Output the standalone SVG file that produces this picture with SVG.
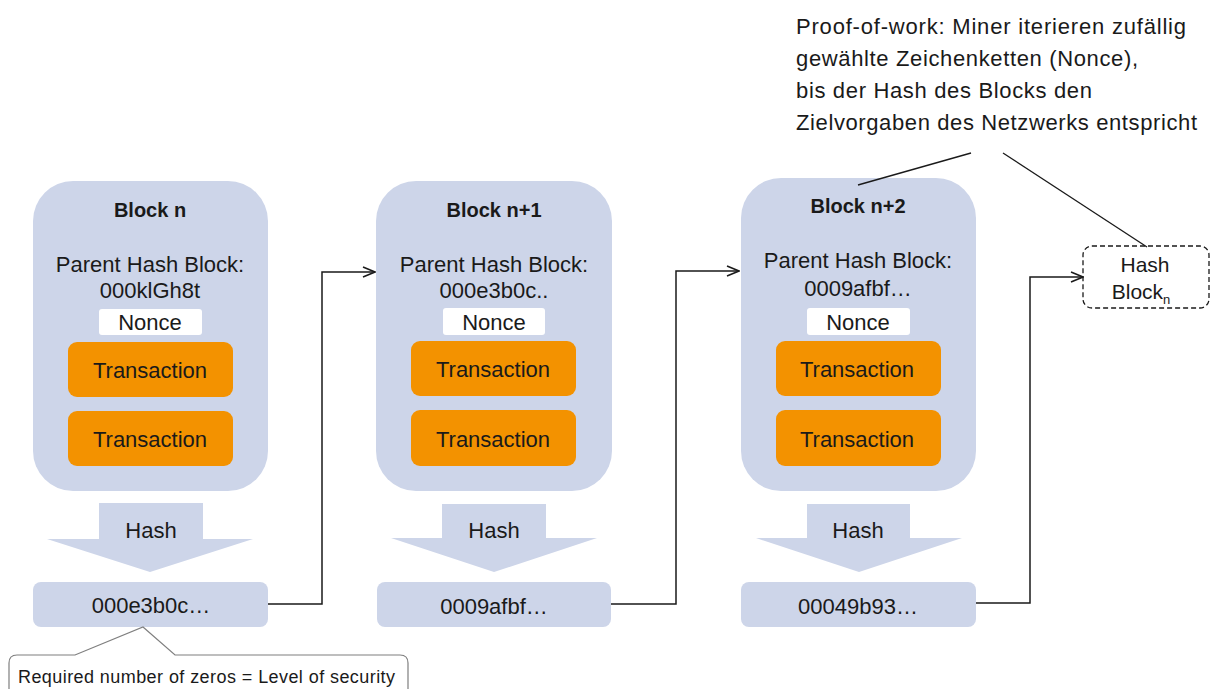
<svg xmlns="http://www.w3.org/2000/svg" width="1213" height="689" viewBox="0 0 1213 689">
  <style>
    text { font-family: "Liberation Sans", Arial, sans-serif; fill: #1a1a1a; }
    .block { fill: #cdd5e9; }
    .title { font-size: 20px; font-weight: bold; text-anchor: middle; }
    .body { font-size: 22px; text-anchor: middle; }
    .small { font-size: 21px; text-anchor: middle; }
    .nonce { fill: #ffffff; }
    .tx { fill: #f39200; }
    .hashbox { fill: #cdd5e9; }
    .conn { fill: none; stroke: #1a1a1a; stroke-width: 1.5; }
    .note { font-size: 22px; }
  </style>
  <defs>
    <marker id="open-arrow" viewBox="0 0 14 12" refX="13" refY="6" markerWidth="14" markerHeight="12" markerUnits="userSpaceOnUse" orient="auto">
      <path d="M1,1 L13,6 L1,11" fill="none" stroke="#1a1a1a" stroke-width="1.5"/>
    </marker>
  </defs>

  <!-- Block n -->
  <g id="block-n">
    <rect class="block" x="33" y="181" width="235" height="310" rx="40"/>
    <text class="title" x="150" y="217">Block n</text>
    <text class="body" x="150" y="272">Parent Hash Block:</text>
    <text class="body" x="150" y="298">000klGh8t</text>
    <rect class="nonce" x="99" y="309" width="103" height="26" rx="3"/>
    <text class="body" x="150" y="330">Nonce</text>
    <rect class="tx" x="68" y="342" width="165" height="55" rx="9"/>
    <text class="body" x="150" y="378">Transaction</text>
    <rect class="tx" x="68" y="411" width="165" height="55" rx="9"/>
    <text class="body" x="150" y="447">Transaction</text>
  </g>
  <g id="hash-n">
    <path class="hashbox" d="M99,503 H203 V539 H253 L150,572 L47,539 H99 Z"/>
    <text class="body" x="151" y="538">Hash</text>
    <rect class="hashbox" x="33" y="582" width="235" height="45" rx="8"/>
    <text class="body" x="151" y="613">000e3b0c…</text>
  </g>

  <!-- Block n+1 -->
  <g id="block-n1">
    <rect class="block" x="376" y="181" width="236" height="310" rx="40"/>
    <text class="title" x="494" y="217">Block n+1</text>
    <text class="body" x="494" y="272">Parent Hash Block:</text>
    <text class="body" x="494" y="298">000e3b0c..</text>
    <rect class="nonce" x="443" y="308" width="102" height="27" rx="3"/>
    <text class="body" x="494" y="330">Nonce</text>
    <rect class="tx" x="411" y="341" width="165" height="55" rx="9"/>
    <text class="body" x="493" y="377">Transaction</text>
    <rect class="tx" x="411" y="410" width="165" height="56" rx="9"/>
    <text class="body" x="493" y="447">Transaction</text>
  </g>
  <g id="hash-n1">
    <path class="hashbox" d="M442,504 H546 V538 H597 L494,572 L391,538 H442 Z"/>
    <text class="body" x="494" y="538">Hash</text>
    <rect class="hashbox" x="377" y="582" width="234" height="45" rx="8"/>
    <text class="body" x="494" y="614">0009afbf…</text>
  </g>

  <!-- Block n+2 -->
  <g id="block-n2">
    <rect class="block" x="741" y="178" width="235" height="313" rx="40"/>
    <text class="title" x="858" y="213">Block n+2</text>
    <text class="body" x="858" y="268">Parent Hash Block:</text>
    <text class="body" x="858" y="296">0009afbf…</text>
    <rect class="nonce" x="807" y="308" width="103" height="27" rx="3"/>
    <text class="body" x="858" y="330">Nonce</text>
    <rect class="tx" x="776" y="341" width="165" height="55" rx="9"/>
    <text class="body" x="857" y="377">Transaction</text>
    <rect class="tx" x="776" y="410" width="165" height="56" rx="9"/>
    <text class="body" x="857" y="447">Transaction</text>
  </g>
  <g id="hash-n2">
    <path class="hashbox" d="M807,504 H910 V538 H962 L859,572 L756,538 H807 Z"/>
    <text class="body" x="858" y="538">Hash</text>
    <rect class="hashbox" x="741" y="582" width="235" height="45" rx="8"/>
    <text class="body" x="858" y="614">00049b93…</text>
  </g>

  <!-- Next block placeholder -->
  <g id="hash-block-next">
    <rect x="1083" y="246" width="126" height="62" rx="9" fill="#ffffff" stroke="#1a1a1a" stroke-width="1.3" stroke-dasharray="5,3"/>
    <text class="small" x="1145" y="272">Hash</text>
    <text class="small" x="1141" y="299">Block<tspan font-size="13" dy="5">n</tspan></text>
  </g>

  <!-- Chain connectors -->
  <g id="connectors">
    <path class="conn" d="M268,604 H322 V272 H375" marker-end="url(#open-arrow)"/>
    <path class="conn" d="M611,604 H676 V271 H739" marker-end="url(#open-arrow)"/>
    <path class="conn" d="M976,603 H1030 V277 H1083" marker-end="url(#open-arrow)"/>
  </g>

  <!-- Proof-of-work annotation -->
  <g id="pow-note">
    <text class="note" x="796" y="34" textLength="390" lengthAdjust="spacing">Proof-of-work: Miner iterieren zufällig</text>
    <text class="note" x="796" y="66" textLength="342" lengthAdjust="spacing">gewählte Zeichenketten (Nonce),</text>
    <text class="note" x="796" y="98" textLength="296" lengthAdjust="spacing">bis der Hash des Blocks den</text>
    <text class="note" x="796" y="130" textLength="401" lengthAdjust="spacing">Zielvorgaben des Netzwerks entspricht</text>
    <line x1="971" y1="153" x2="858" y2="185" stroke="#1a1a1a" stroke-width="1.3"/>
    <line x1="1003" y1="153" x2="1147" y2="247" stroke="#1a1a1a" stroke-width="1.3"/>
  </g>

  <!-- Security callout -->
  <g id="security-note">
    <path d="M9,695 V663 Q9,655 17,655 H75 L143,627 L175,655 H400 Q408,655 408,663 V695" fill="#ffffff" stroke="#7f7f7f" stroke-width="1.2"/>
    <text x="18" y="683" font-size="18" textLength="377" lengthAdjust="spacing">Required number of zeros = Level of security</text>
  </g>
</svg>
